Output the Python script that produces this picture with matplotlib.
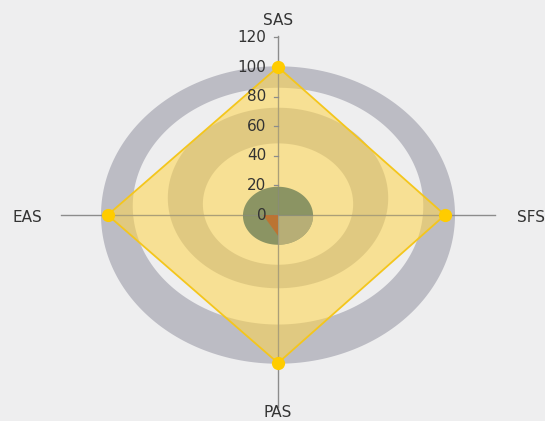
import numpy as np
import matplotlib.pyplot as plt
from matplotlib.path import Path
from matplotlib.patches import PathPatch, Polygon

# radar data
categories = ['SAS', 'SFS', 'PAS', 'EAS']
angles_deg = [90, 0, -90, 180]
main_values = [100, 100, 100, 102]
small_values = [0, 0, 14, 9]
ticks = [0, 20, 40, 60, 80, 100, 120]

# background bands (centre x, centre y, rx, ry) for outer / inner edge
gray_ring = [(0, 0, 106, 100.5), (0, 6, 87, 80)]
mid_ring = [(0, 11.5, 66, 61), (0, 7.4, 45, 41)]
green_disc = (0, -0.5, 21, 19.6)


def ellipse_pts(cx, cy, rx, ry, t0=0.0, t1=2 * np.pi, n=240):
    t = np.linspace(t0, t1, n)
    return np.column_stack([cx + rx * np.cos(t), cy + ry * np.sin(t)])


def ring_patch(outer, inner, **kw):
    out = ellipse_pts(*outer)
    inn = ellipse_pts(*inner)[::-1]
    verts = np.vstack([out, out[:1], inn, inn[:1]])
    codes = ([Path.MOVETO] + [Path.LINETO] * (len(out) - 1) + [Path.CLOSEPOLY]
             + [Path.MOVETO] + [Path.LINETO] * (len(inn) - 1) + [Path.CLOSEPOLY])
    return PathPatch(Path(verts, codes), **kw)


def to_xy(values):
    a = np.radians(angles_deg)
    v = np.array(values, dtype=float)
    return v * np.cos(a), v * np.sin(a)


fig = plt.figure(figsize=(5.45, 4.21), dpi=100)
fig.patch.set_facecolor('#eeeeef')
ax = fig.add_axes([0, 0, 1, 1])
ax.set_xlim(-166.5, 159.9)
ax.set_ylim(-139.2, 145.3)
ax.axis('off')

band_col = '#bcbcc4'
ax.add_patch(ring_patch(*gray_ring, facecolor=band_col, edgecolor='none', zorder=1))
ax.add_patch(ring_patch(*mid_ring, facecolor=band_col, edgecolor='none', zorder=1))

# axis lines
for ang, length in zip(angles_deg, [121, 130, 130, 130]):
    a = np.radians(ang)
    ax.plot([0, length * np.cos(a)], [0, length * np.sin(a)], color='#8c8c8c', lw=0.9, zorder=2)

# main series
mx, my = to_xy(main_values)
ax.add_patch(Polygon(np.column_stack([mx, my]), closed=True, facecolor='#ffd54a', alpha=0.55,
                     edgecolor='none', zorder=3))
ax.add_patch(Polygon(np.column_stack([mx, my]), closed=True, fill=False, edgecolor='#f4c61c',
                     lw=1.3, zorder=4))

# centre disc
gd = ellipse_pts(*green_disc)
ax.add_patch(Polygon(gd, closed=True, facecolor='#7f8c5e', alpha=0.9, edgecolor='none', zorder=5))
q = ellipse_pts(*green_disc, t0=-np.pi / 2, t1=0, n=60)
ax.add_patch(Polygon(np.vstack([[green_disc[:2]], q]), closed=True, facecolor='#c3b57c',
                     alpha=0.8, edgecolor='none', zorder=5))
ax.plot([-130, 130], [0, 0], color='#8c8c8c', lw=0.9, zorder=6, alpha=0.5)
ax.plot([0, 0], [-130, 121], color='#8c8c8c', lw=0.9, zorder=6, alpha=0.5)

# small series
sx, sy = to_xy(small_values)
ax.add_patch(Polygon(np.column_stack([sx, sy]), closed=True, facecolor='#cc6a22', alpha=0.75,
                     edgecolor='none', zorder=7))

ax.plot(mx, my, 'o', color='#ffcc00', ms=8.5, zorder=8)

# value axis labels
for v in ticks:
    ax.plot([-2.5, 0], [v, v], color='#8c8c8c', lw=0.9, zorder=6)
    ax.text(-7, v, str(v), ha='right', va='center', fontsize=11, color='#333333', zorder=9)

# category labels
ax.text(0, 131.5, 'SAS', ha='center', va='center', fontsize=11, color='#333333')
ax.text(143, -2, 'SFS', ha='left', va='center', fontsize=11, color='#333333')
ax.text(-141, -2, 'EAS', ha='right', va='center', fontsize=11, color='#333333')
ax.text(0, -138.2, 'PAS', ha='center', va='bottom', fontsize=11, color='#333333')

fig.savefig('out.png', dpi=100, facecolor=fig.get_facecolor())
